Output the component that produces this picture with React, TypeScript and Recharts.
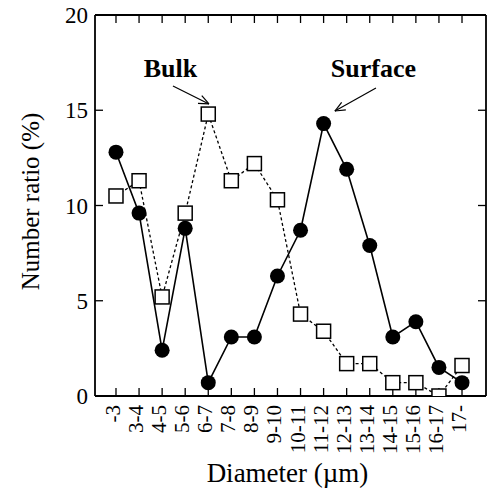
import React from 'react'
import {
  LineChart, Line, XAxis, YAxis, ReferenceLine, ReferenceDot,
} from 'recharts'

const categories = ['-3', '3-4', '4-5', '5-6', '6-7', '7-8', '8-9', '9-10', '10-11', '11-12', '12-13', '13-14', '14-15', '15-16', '16-17', '17-']
const surface = [12.8, 9.6, 2.4, 8.8, 0.7, 3.1, 3.1, 6.3, 8.7, 14.3, 11.9, 7.9, 3.1, 3.9, 1.5, 0.7]
const bulk = [10.5, 11.3, 5.2, 9.6, 14.8, 11.3, 12.2, 10.3, 4.3, 3.4, 1.7, 1.7, 0.7, 0.7, 0, 1.6]
const yTicks = [0, 5, 10, 15, 20]

// annotation text + arrow, in data coordinates (x = category index)
const annotations = [
  { text: 'Bulk', x: 2.36, y: 16.75, from: [2.47, 16.27], to: [4.03, 15.33] },
  { text: 'Surface', x: 11.16, y: 16.75, from: [11.27, 16.17], to: [9.49, 14.96] },
]

const data = categories.map((c, i) => ({ idx: i, label: c, surface: surface[i], bulk: bulk[i] }))
const xTicks = categories.map((_, i) => i)
const X_DOMAIN: [number, number] = [-0.91, 16.04]

const FONT = '"Liberation Serif", "Times New Roman", serif'

function SquareDot({ cx, cy }: any) {
  if (cx == null || cy == null) return null
  return <rect x={cx - 7} y={cy - 7} width={14} height={14} fill="#fff" stroke="#000" strokeWidth={1.5} />
}

function CircleDot({ cx, cy }: any) {
  if (cx == null || cy == null) return null
  return <circle cx={cx} cy={cy} r={7.5} fill="#000" />
}

function XTick({ x, y, payload }: any) {
  return (
    <text
      transform={`translate(${x - 3},${y}) rotate(-90)`}
      textAnchor="end"
      dominantBaseline="central"
      fontSize={21}
      fontFamily={FONT}
      fill="#000"
    >
      {categories[payload.value]}
    </text>
  )
}

const NoTick = () => <g />

function Arrow({ x1, y1, x2, y2 }: any) {
  const ang = Math.atan2(y2 - y1, x2 - x1)
  const len = 11
  const spread = 0.4
  const a1 = ang + Math.PI - spread
  const a2 = ang + Math.PI + spread
  return (
    <g stroke="#000" strokeWidth={1.2} fill="none">
      <line x1={x1} y1={y1} x2={x2} y2={y2} />
      <line x1={x2} y1={y2} x2={x2 + len * Math.cos(a1)} y2={y2 + len * Math.sin(a1)} />
      <line x1={x2} y1={y2} x2={x2 + len * Math.cos(a2)} y2={y2 + len * Math.sin(a2)} />
    </g>
  )
}

export default function App() {
  return (
    <div style={{ position: 'absolute', left: 0, top: 0, background: '#fff' }}>
      <LineChart width={494} height={488} data={data} margin={{ top: 14, right: 7, left: 0, bottom: 0 }}>
        <XAxis
          xAxisId="b"
          dataKey="idx"
          type="number"
          domain={X_DOMAIN}
          ticks={xTicks}
          interval={0}
          allowDataOverflow
          height={92}
          tickSize={-8}
          tickMargin={17}
          tick={<XTick />}
          axisLine={{ stroke: '#000', strokeWidth: 1.8 }}
          tickLine={{ stroke: '#000', strokeWidth: 1.3 }}
          label={({ viewBox }: any) => (
            <text x={viewBox.x + viewBox.width / 2 - 3} y={482} textAnchor="middle" fontSize={27} fontFamily={FONT} fill="#000">
              Diameter (µm)
            </text>
          )}
        />
        <XAxis
          xAxisId="t"
          orientation="top"
          dataKey="idx"
          type="number"
          domain={X_DOMAIN}
          ticks={xTicks}
          interval={0}
          allowDataOverflow
          height={1}
          tickSize={-8}
          tick={<NoTick />}
          axisLine={{ stroke: '#000', strokeWidth: 1.8 }}
          tickLine={{ stroke: '#000', strokeWidth: 1.3 }}
        />
        <YAxis
          yAxisId="l"
          domain={[0, 20]}
          ticks={yTicks}
          allowDataOverflow
          width={95}
          tickSize={-8}
          tickMargin={15}
          tick={{ fontSize: 23, fontFamily: FONT, fill: '#000' }}
          axisLine={{ stroke: '#000', strokeWidth: 1.8 }}
          tickLine={{ stroke: '#000', strokeWidth: 1.3 }}
          label={({ viewBox }: any) => {
            const cx = 30
            const cy = viewBox.y + viewBox.height / 2 - 4
            return (
              <text transform={`translate(${cx},${cy}) rotate(-90)`} textAnchor="middle" dominantBaseline="central" fontSize={25} fontFamily={FONT} fill="#000">
                Number ratio (%)
              </text>
            )
          }}
        />
        <YAxis
          yAxisId="r"
          orientation="right"
          domain={[0, 20]}
          ticks={yTicks}
          allowDataOverflow
          width={1}
          tickSize={-8}
          tick={<NoTick />}
          axisLine={{ stroke: '#000', strokeWidth: 1.8 }}
          tickLine={{ stroke: '#000', strokeWidth: 1.3 }}
        />
        <Line
          xAxisId="b"
          yAxisId="l"
          dataKey="bulk"
          stroke="#000"
          strokeWidth={1.3}
          strokeDasharray="3 2.5"
          dot={<SquareDot />}
          activeDot={false}
          isAnimationActive={false}
        />
        {/* same domains as b/l; bound to the mirror axes so those get their ticks */}
        <Line
          xAxisId="t"
          yAxisId="r"
          dataKey="surface"
          stroke="#000"
          strokeWidth={1.6}
          dot={<CircleDot />}
          activeDot={false}
          isAnimationActive={false}
        />
        {annotations.map((a) => (
          <ReferenceLine
            key={a.text + '-arrow'}
            xAxisId="b"
            yAxisId="l"
            segment={[{ x: a.from[0], y: a.from[1] }, { x: a.to[0], y: a.to[1] }]}
            shape={(p: any) => <Arrow {...p} />}
          />
        ))}
        {annotations.map((a) => (
          <ReferenceDot
            key={a.text}
            xAxisId="b"
            yAxisId="l"
            x={a.x}
            y={a.y}
            shape={(p: any) => (
              <text x={p.cx} y={p.cy} textAnchor="middle" fontSize={26} fontWeight="bold" fontFamily={FONT} fill="#000">
                {a.text}
              </text>
            )}
          />
        ))}
      </LineChart>
    </div>
  )
}
